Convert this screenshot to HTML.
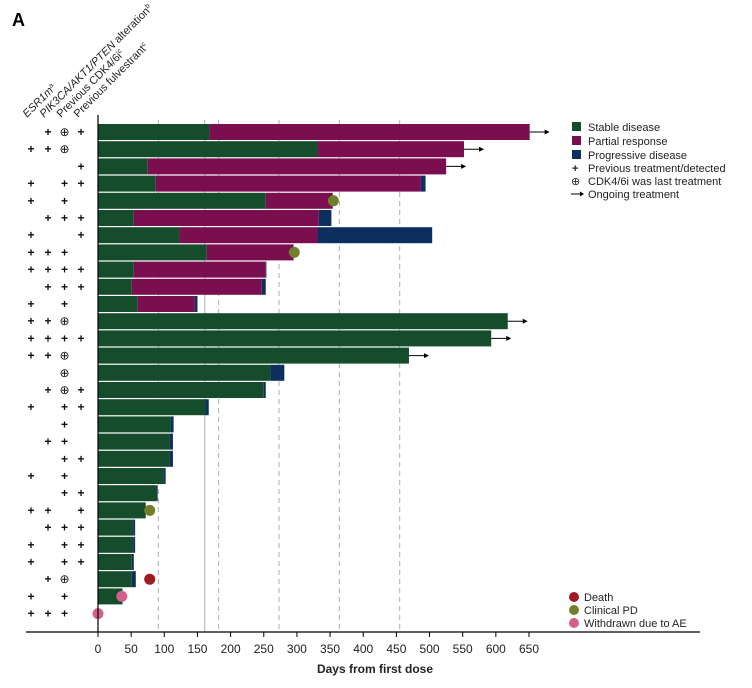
<!DOCTYPE html>
<html><head><meta charset="utf-8"><style>
body{margin:0;background:#fff;}
svg{display:block;font-family:"Liberation Sans",Arial,sans-serif;}
</style></head><body>
<svg id="chart" width="752" height="688" viewBox="0 0 752 688">
<text x="12" y="26" font-size="18" font-weight="bold">A</text>
<g id="headers" font-size="11" fill="#222">
<text transform="translate(27,118) rotate(-45)" font-style="italic">ESR1m<tspan font-size="7" dy="-4" font-style="normal">a</tspan></text>
<text transform="translate(44,118) rotate(-45)"><tspan font-style="italic">PIK3CA/AKT1/PTEN</tspan> alteration<tspan font-size="7" dy="-4">b</tspan></text>
<text transform="translate(61,118) rotate(-45)">Previous CDK4/6i<tspan font-size="7" dy="-4">c</tspan></text>
<text transform="translate(78,118) rotate(-45)">Previous fulvestrant<tspan font-size="7" dy="-4">c</tspan></text>
</g>
<g id="grid"></g>
<g id="bars"></g>
<g id="marks"></g>
<g id="axis"></g>
<g id="legend" font-size="11" fill="#222">
<rect x="572" y="122" width="9" height="9" fill="#154d2c"/>
<text x="588" y="131">Stable disease</text>
<rect x="572" y="136" width="9" height="9" fill="#7a0e4f"/>
<text x="588" y="145">Partial response</text>
<rect x="572" y="150" width="9" height="9" fill="#0c2f5e"/>
<text x="588" y="159">Progressive disease</text>
<text x="572" y="172" font-weight="bold">+<tspan x="588" font-weight="normal">Previous treatment/detected</tspan></text>
<text x="571" y="185">⊕<tspan x="588">CDK4/6i was last treatment</tspan></text>
<line x1="571" y1="194" x2="583" y2="194" stroke="#000" stroke-width="1"/>
<path d="M580,191.5 L584,194 L580,196.5 Z" fill="#000"/>
<text x="588" y="198">Ongoing treatment</text>
<circle cx="574" cy="597" r="5" fill="#9e1b22"/>
<text x="584" y="601">Death</text>
<circle cx="574" cy="610" r="5" fill="#6f7f2a"/>
<text x="584" y="614">Clinical PD</text>
<circle cx="574" cy="623" r="5" fill="#d45f88"/>
<text x="584" y="627">Withdrawn due to AE</text>
</g>
</svg>
<script>
const stableEnd = [168,331,75,87,253,54,123,164,54,51,60,618,593,469,260,250,162,110,108,108,99,89,72,53,53,51,51,37,0];
const partialEnd = [651,552,525,487,354,333,331,295,253,247,146,0,0,0,0,0,0,0,0,0,0,0,0,0,0,0,0,0,0];
const progressiveEnd = [0,0,0,494,0,352,504,0,254,253,150,0,0,0,281,253,167,114,113,113,102,90,0,56,56,54,57,0,0];
const ongoing = [1,1,1,0,0,0,0,0,0,0,0,1,1,1,0,0,0,0,0,0,0,0,0,0,0,0,0,0,0];
const eventType = ['','','','','pd','','','pd','','','','','','','','','','','','','','','pd','','','','death','ae','ae'];
const eventDay = [0,0,0,0,355,0,0,296,0,0,0,0,0,0,0,0,0,0,0,0,0,0,78,0,0,0,78,36,0];
const esr1 = ['','+','','+','+','','+','+','+','','+','+','+','+','','','+','','','','+','','+','','+','+','','+','+'];
const pik3 = ['+','+','','','','+','','+','+','+','','+','+','+','','+','','','+','','','','+','+','','','+','','+'];
const cdk = ['⊕','⊕','','+','+','+','','+','+','+','+','⊕','+','⊕','⊕','⊕','+','+','+','+','+','+','','+','+','+','⊕','+','+'];
const fulv = ['+','','+','+','','+','+','','+','+','','','+','','','+','+','','','+','','+','+','+','+','+','','',''];
const xTicks = [0,50,100,150,200,250,300,350,400,450,500,550,600,650];
const dashedDays = [91,182,273,364,455];
const solidDay = 161;

const NS='http://www.w3.org/2000/svg';
const x0=98, pxPerDay=(529-98)/650;
const X=d=>x0+d*pxPerDay;
const rowTop=124, pitch=17.2, barH=16;
const Y=i=>rowTop+i*pitch;
function mk(tag,attrs,parent){const e=document.createElementNS(NS,tag);for(const k in attrs)e.setAttribute(k,attrs[k]);parent.appendChild(e);return e;}
const grid=document.getElementById('grid'),bars=document.getElementById('bars'),marks=document.getElementById('marks'),axis=document.getElementById('axis');
dashedDays.forEach(d=>{const l=mk('line',{x1:X(d),x2:X(d),y1:120,y2:632,stroke:'#a8b2b6','stroke-width':1,'stroke-dasharray':'5,4'},grid);

});
const sl=mk('line',{x1:X(solidDay),x2:X(solidDay),y1:120,y2:632,stroke:'#a8b2b6','stroke-width':1},grid);


const evColor={pd:'#6f7f2a',death:'#9e1b22',ae:'#d45f88'};
for(let i=0;i<stableEnd.length;i++){
  const y=Y(i);
  const segs=[[0,stableEnd[i],'#154d2c','stable'],[stableEnd[i],partialEnd[i],'#7a0e4f','partial'],[Math.max(stableEnd[i],partialEnd[i]),progressiveEnd[i],'#0c2f5e','progressive']];
  segs.forEach(s=>{if(s[1]>s[0]){const r=mk('rect',{x:X(s[0]),y:y,width:X(s[1])-X(s[0]),height:barH,fill:s[2]},bars);
    
    }});
  const end=Math.max(stableEnd[i],partialEnd[i],progressiveEnd[i]);
  if(ongoing[i]){const ax=X(end);
    const l=mk('line',{x1:ax,x2:ax+18,y1:y+barH/2,y2:y+barH/2,stroke:'#000','stroke-width':1},marks);
    
    
    const h=mk('path',{d:`M${ax+15},${y+barH/2-2.5} L${ax+20},${y+barH/2} L${ax+15},${y+barH/2+2.5} Z`,fill:'#000'},marks);
    
    }
  if(eventType[i]){const c=mk('circle',{cx:X(eventDay[i]),cy:y+barH/2,r:5.5,fill:evColor[eventType[i]]},marks);
    
    }
  [[esr1,31,'esr1'],[pik3,48,'pik3ca'],[cdk,64.5,'cdk'],[fulv,81,'fulvestrant']].forEach(c=>{const v=c[0][i];if(v){
    const t=mk('text',{x:c[1],y:y+barH/2+4,'text-anchor':'middle','font-size':12,'font-weight':v==='+'?'bold':'normal',fill:'#111'},marks);t.textContent=v;
    
    }});
}
const ya=mk('line',{x1:98,x2:98,y1:115,y2:632,stroke:'#000','stroke-width':1.2},axis);


const xa=mk('line',{x1:26,x2:700,y1:632,y2:632,stroke:'#000','stroke-width':1.2},axis);


xTicks.forEach(t=>{const l=mk('line',{x1:X(t),x2:X(t),y1:632,y2:637,stroke:'#000'},axis);
  
  
  const tx=mk('text',{x:X(t),y:653,'text-anchor':'middle','font-size':12,fill:'#222'},axis);tx.textContent=t;
  
  });
const ti=mk('text',{x:375,y:673,'text-anchor':'middle','font-size':12,'font-weight':'bold',fill:'#222'},axis);ti.textContent='Days from first dose';


</script>
</body></html>
